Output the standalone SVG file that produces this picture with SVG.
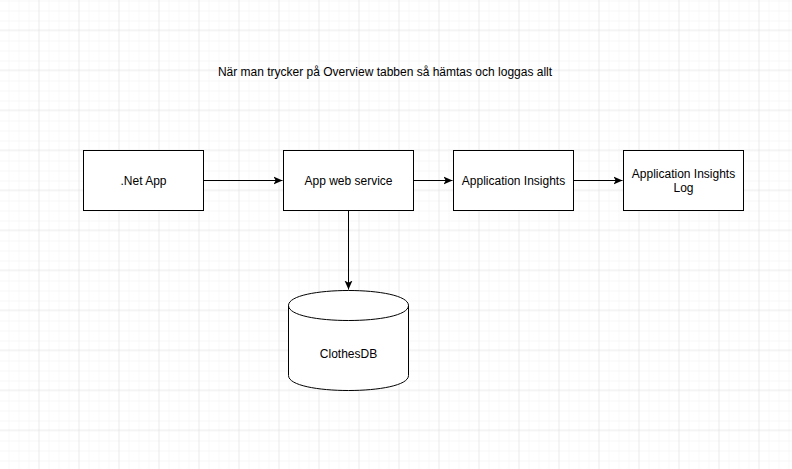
<svg xmlns="http://www.w3.org/2000/svg" width="792" height="469" viewBox="0 0 792 469">
<defs>
<pattern id="minor" x="-0.5" y="0.5" width="10" height="10" patternUnits="userSpaceOnUse">
<path d="M10 0 V10 M0 0 H10" fill="none" stroke="#f0f0f0" stroke-width="1"/>
</pattern>
<pattern id="major" x="-0.5" y="-9.5" width="40" height="40" patternUnits="userSpaceOnUse">
<path d="M40 0 V40 M0 40 H40" fill="none" stroke="#e0e0e0" stroke-width="1"/>
</pattern>
<marker id="arrow" viewBox="0 0 10 10" refX="9" refY="5" markerWidth="10" markerHeight="10" markerUnits="userSpaceOnUse" orient="auto">
<path d="M0 1 L9 5 L0 9 L2.2 5 Z" fill="#000"/>
</marker>
</defs>
<style>
.box{fill:#fff;stroke:#000;stroke-width:1}
.lbl{font-family:"Liberation Sans",Arial,sans-serif;font-size:12px;fill:#000;text-anchor:middle}
.edge{fill:none;stroke:#000;stroke-width:1}
</style>
<rect width="792" height="469" fill="#fff"/>
<rect width="792" height="469" fill="url(#minor)"/>
<rect width="792" height="469" fill="url(#major)"/>
<g id="title"><text class="lbl" x="385" y="76">När man trycker på Overview tabben så hämtas och loggas allt</text></g>
<g id="connectors">
<path class="edge" d="M203.5 180.5 H282.5" marker-end="url(#arrow)"/>
<path class="edge" d="M413.5 180.5 H452.5" marker-end="url(#arrow)"/>
<path class="edge" d="M573.5 180.5 H622.5" marker-end="url(#arrow)"/>
<path class="edge" d="M348.5 210.5 V289.5" marker-end="url(#arrow)"/>
</g>
<g id="netapp"><rect class="box" x="83.5" y="150.5" width="120" height="60"/><text class="lbl" x="143.5" y="185">.Net App</text></g>
<g id="appweb"><rect class="box" x="283.5" y="150.5" width="130" height="60"/><text class="lbl" x="348.5" y="185">App web service</text></g>
<g id="appinsights"><rect class="box" x="453.5" y="150.5" width="120" height="60"/><text class="lbl" x="513.5" y="185">Application Insights</text></g>
<g id="appinsightslog"><rect class="box" x="623.5" y="150.5" width="120" height="60"/><text class="lbl" x="683.5" y="178">Application Insights</text><text class="lbl" x="683.5" y="192">Log</text></g>
<g id="clothesdb">
<path class="box" d="M288.5 305.5 C288.5 285.5 408.5 285.5 408.5 305.5 L408.5 375.5 C408.5 395.5 288.5 395.5 288.5 375.5 Z"/>
<path class="edge" d="M288.5 305.5 C288.5 325.5 408.5 325.5 408.5 305.5"/>
<text class="lbl" x="348.5" y="358">ClothesDB</text>
</g>
</svg>
